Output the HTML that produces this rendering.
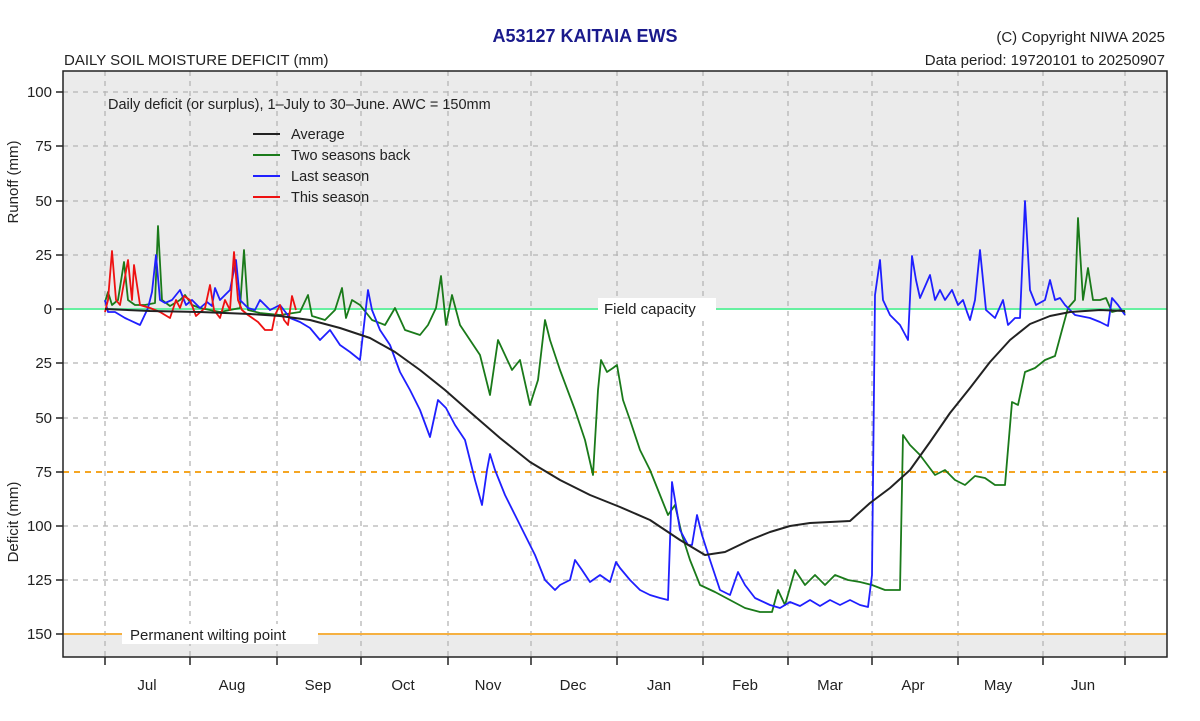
<!DOCTYPE html>
<html><head><meta charset="utf-8"><style>
body{margin:0;background:#fff;}
svg text{font-family:"Liberation Sans",Arial,sans-serif;fill:#222;}
</style></head><body>
<svg width="1200" height="716" viewBox="0 0 1200 716" xmlns="http://www.w3.org/2000/svg">
<rect x="63" y="71" width="1104" height="238" fill="#ebebeb"/>
<rect x="63" y="634" width="1104" height="23" fill="#ebebeb"/>
<g stroke="#b5b5b5" stroke-width="1.3" stroke-dasharray="5,5">
<line x1="63" y1="92" x2="1167" y2="92"/><line x1="63" y1="146" x2="1167" y2="146"/><line x1="63" y1="201" x2="1167" y2="201"/><line x1="63" y1="255" x2="1167" y2="255"/>
<line x1="63" y1="363" x2="1167" y2="363"/><line x1="63" y1="418" x2="1167" y2="418"/><line x1="63" y1="526" x2="1167" y2="526"/><line x1="63" y1="580" x2="1167" y2="580"/>
<line x1="105" y1="71" x2="105" y2="657"/><line x1="190" y1="71" x2="190" y2="657"/><line x1="277" y1="71" x2="277" y2="657"/><line x1="361" y1="71" x2="361" y2="657"/><line x1="448" y1="71" x2="448" y2="657"/><line x1="531" y1="71" x2="531" y2="657"/><line x1="617" y1="71" x2="617" y2="657"/><line x1="703" y1="71" x2="703" y2="657"/><line x1="788" y1="71" x2="788" y2="657"/><line x1="872" y1="71" x2="872" y2="657"/><line x1="958" y1="71" x2="958" y2="657"/><line x1="1043" y1="71" x2="1043" y2="657"/><line x1="1125" y1="71" x2="1125" y2="657"/>
</g>
<line x1="63" y1="309" x2="1167" y2="309" stroke="#66f0a0" stroke-width="2"/>
<line x1="63" y1="472" x2="1167" y2="472" stroke="#f5a623" stroke-width="2" stroke-dasharray="6,5"/>
<line x1="63" y1="634" x2="1167" y2="634" stroke="#f5b041" stroke-width="2"/>
<rect x="598" y="298" width="118" height="22" fill="#fff"/>
<text x="604" y="314" font-size="15">Field capacity</text>
<rect x="122" y="624" width="196" height="20" fill="#fff"/>
<text x="130" y="640" font-size="15">Permanent wilting point</text>
<!-- series -->
<g fill="none" stroke-width="1.8" stroke-linejoin="round">
<polyline stroke="#1a7a1a" points="105,302 108,292 112,305 118,300 124,262 128,300 135,305 145,305 155,303 158,226 162,300 170,306 180,300 185,295 192,305 200,308 210,310 220,312 240,308 244,250 248,310 260,313 280,315 300,312 308,295 312,316 325,320 335,310 342,288 346,318 352,300 360,305 372,320 385,325 395,308 405,330 420,335 428,325 436,308 441,276 446,325 452,295 460,325 470,340 480,355 490,395 498,340 505,355 512,370 520,360 530,405 538,380 545,320 550,340 560,370 575,410 585,440 593,475 598,390 601,360 607,372 613,368 617,365 623,400 630,420 640,450 650,470 660,495 668,515 675,505 682,535 690,560 700,585 715,592 730,600 745,608 760,612 772,612 778,590 785,605 795,570 805,585 815,575 825,585 835,575 848,580 860,582 872,585 885,590 900,590 903,435 910,445 920,455 935,475 945,470 955,480 965,485 975,476 985,478 995,485 1005,485 1012,402 1018,405 1025,372 1035,368 1045,360 1055,356 1062,330 1068,308 1075,300 1078,218 1083,300 1088,268 1093,300 1100,300 1106,298 1112,312 1120,310 1125,313"/>
<polyline stroke="#1f1fff" points="105,300 108,312 115,312 125,318 140,325 148,308 152,292 156,255 160,300 165,303 172,300 180,290 186,305 192,300 200,308 207,302 212,306 215,288 220,300 230,290 236,260 240,300 248,308 255,310 260,300 266,306 270,310 280,305 290,318 300,322 310,328 320,340 330,330 340,345 350,352 360,360 364,325 368,290 372,310 380,330 390,345 400,372 410,390 420,410 430,437 438,400 446,408 455,425 465,440 475,480 482,505 487,470 490,454 495,470 505,495 515,515 525,535 535,555 545,580 555,590 560,585 570,580 575,560 582,570 590,582 600,575 610,582 616,562 620,568 630,580 640,590 650,595 660,598 668,600 672,482 680,530 688,545 692,545 697,515 702,535 710,560 720,590 730,595 738,572 745,585 755,598 770,605 780,608 790,602 800,606 810,600 820,606 830,600 840,605 850,600 860,605 868,607 872,575 875,295 880,260 883,300 890,315 900,325 908,340 912,256 916,280 920,298 930,275 935,300 940,290 945,300 952,290 958,305 963,300 967,312 970,320 975,300 980,250 986,310 995,318 1003,300 1008,325 1015,318 1020,318 1025,201 1030,290 1036,305 1045,300 1050,280 1055,300 1060,298 1065,305 1075,315 1090,318 1100,322 1108,326 1112,298 1118,305 1125,315"/>
<polyline stroke="#ee1111" points="105,312 108,300 112,251 116,300 120,305 128,260 132,300 134,265 137,285 140,305 150,308 160,312 170,318 176,300 180,308 184,296 190,300 196,316 205,308 210,285 214,310 220,318 225,300 230,310 234,252 238,300 242,310 248,315 258,322 265,330 272,330 275,315 280,305 284,320 288,325 292,296 296,310"/>
<polyline stroke="#222" stroke-width="2" points="105,309 150,311 200,312 250,314 280,316 310,320 340,328 370,338 395,352 420,370 445,390 470,412 500,438 530,462 560,480 590,495 620,507 650,520 680,540 705,555 725,552 750,540 770,532 790,526 810,523 830,522 850,521 870,503 890,488 910,470 930,442 950,413 970,388 990,362 1010,340 1030,324 1050,316 1070,312 1100,310 1125,311"/>
</g>
<!-- legend -->
<text x="108" y="109" font-size="14.5">Daily deficit (or surplus), 1–July to 30–June.  AWC = 150mm</text>
<g stroke-width="2"><line x1="253" y1="134" x2="280" y2="134" stroke="#222"/><line x1="253" y1="155" x2="280" y2="155" stroke="#1a7a1a"/><line x1="253" y1="176" x2="280" y2="176" stroke="#1f1fff"/><line x1="253" y1="197" x2="280" y2="197" stroke="#ee1111"/></g>
<text x="291" y="139" font-size="14.5">Average</text>
<text x="291" y="160" font-size="14.5">Two seasons back</text>
<text x="291" y="181" font-size="14.5">Last season</text>
<text x="291" y="202" font-size="14.5">This season</text>
<!-- frame -->
<rect x="63" y="71" width="1104" height="586" fill="none" stroke="#222" stroke-width="1.5"/>
<g stroke="#222" stroke-width="1.5">
<line x1="56" y1="92" x2="63" y2="92"/><line x1="56" y1="146" x2="63" y2="146"/><line x1="56" y1="201" x2="63" y2="201"/><line x1="56" y1="255" x2="63" y2="255"/><line x1="56" y1="309" x2="63" y2="309"/><line x1="56" y1="363" x2="63" y2="363"/><line x1="56" y1="418" x2="63" y2="418"/><line x1="56" y1="472" x2="63" y2="472"/><line x1="56" y1="526" x2="63" y2="526"/><line x1="56" y1="580" x2="63" y2="580"/><line x1="56" y1="634" x2="63" y2="634"/>
<line x1="105" y1="657" x2="105" y2="665"/><line x1="190" y1="657" x2="190" y2="665"/><line x1="277" y1="657" x2="277" y2="665"/><line x1="361" y1="657" x2="361" y2="665"/><line x1="448" y1="657" x2="448" y2="665"/><line x1="531" y1="657" x2="531" y2="665"/><line x1="617" y1="657" x2="617" y2="665"/><line x1="703" y1="657" x2="703" y2="665"/><line x1="788" y1="657" x2="788" y2="665"/><line x1="872" y1="657" x2="872" y2="665"/><line x1="958" y1="657" x2="958" y2="665"/><line x1="1043" y1="657" x2="1043" y2="665"/><line x1="1125" y1="657" x2="1125" y2="665"/>
</g>
<g font-size="15" text-anchor="end">
<text x="52" y="97">100</text><text x="52" y="151">75</text><text x="52" y="206">50</text><text x="52" y="260">25</text><text x="52" y="314">0</text><text x="52" y="368">25</text><text x="52" y="423">50</text><text x="52" y="477">75</text><text x="52" y="531">100</text><text x="52" y="585">125</text><text x="52" y="639">150</text>
</g>
<g font-size="15" text-anchor="middle">
<text x="147" y="690">Jul</text><text x="232" y="690">Aug</text><text x="318" y="690">Sep</text><text x="403" y="690">Oct</text><text x="488" y="690">Nov</text><text x="573" y="690">Dec</text><text x="659" y="690">Jan</text><text x="745" y="690">Feb</text><text x="830" y="690">Mar</text><text x="913" y="690">Apr</text><text x="998" y="690">May</text><text x="1083" y="690">Jun</text>
</g>
<text transform="translate(18,182) rotate(-90)" font-size="15" text-anchor="middle">Runoff (mm)</text>
<text transform="translate(18,522) rotate(-90)" font-size="15" text-anchor="middle">Deficit (mm)</text>
<text x="585" y="42" font-size="18" font-weight="bold" text-anchor="middle" style="fill:#1a1a8c">A53127  KAITAIA EWS</text>
<text x="64" y="65" font-size="15">DAILY SOIL MOISTURE DEFICIT (mm)</text>
<text x="1165" y="42" font-size="15" text-anchor="end">(C) Copyright NIWA  2025</text>
<text x="1165" y="65" font-size="15" text-anchor="end">Data period:  19720101  to  20250907</text>
</svg>
</body></html>
